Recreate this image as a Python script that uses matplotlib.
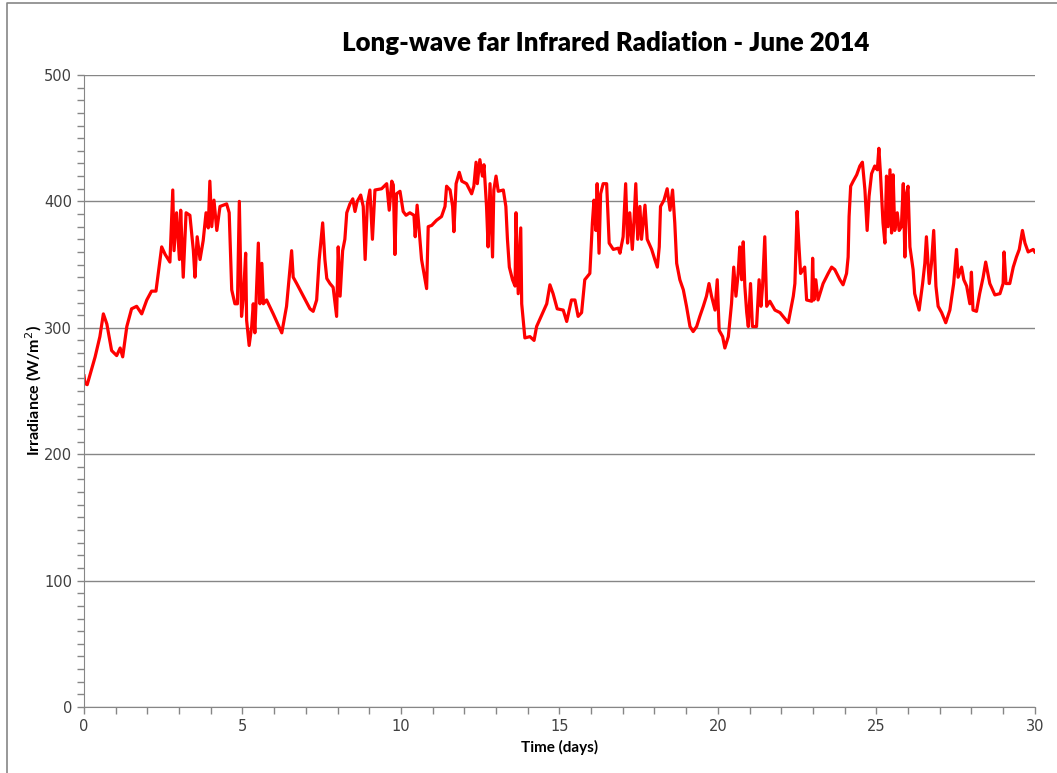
import matplotlib.pyplot as plt
from matplotlib.ticker import MultipleLocator
from matplotlib.lines import Line2D

# values (time in days, irradiance in W/m2)
days = [0.0, 0.03, 0.1, 0.35, 0.5, 0.61, 0.72, 0.87, 1.03, 1.14, 1.22, 1.35, 1.5, 1.66,
        1.82, 1.98, 2.13, 2.27, 2.4, 2.45, 2.56, 2.71, 2.8, 2.84, 2.92, 3.01, 3.05, 3.13,
        3.22, 3.34, 3.45, 3.5, 3.57, 3.66, 3.76, 3.85, 3.92, 3.97, 4.03, 4.1, 4.19, 4.29,
        4.5, 4.58, 4.66, 4.76, 4.84, 4.9, 4.97, 5.03, 5.1, 5.13, 5.21, 5.29, 5.34, 5.39,
        5.5, 5.55, 5.61, 5.66, 5.76, 5.97, 6.24, 6.39, 6.55, 6.6, 6.71, 6.92, 7.13, 7.23,
        7.34, 7.42, 7.53, 7.6, 7.66, 7.76, 7.86, 7.97, 8.02, 8.08, 8.16, 8.23, 8.29, 8.39,
        8.48, 8.55, 8.62, 8.73, 8.81, 8.87, 8.94, 9.02, 9.1, 9.18, 9.39, 9.55, 9.63, 9.71,
        9.76, 9.81, 9.86, 9.97, 10.07, 10.16, 10.28, 10.41, 10.45, 10.51, 10.58, 10.65,
        10.76, 10.81, 10.86, 10.97, 11.12, 11.28, 11.39, 11.44, 11.55, 11.63, 11.67, 11.74,
        11.84, 11.92, 12.07, 12.23, 12.3, 12.37, 12.41, 12.49, 12.57, 12.62, 12.7, 12.75,
        12.81, 12.89, 12.93, 13.0, 13.07, 13.23, 13.31, 13.36, 13.42, 13.52, 13.6, 13.63,
        13.7, 13.78, 13.81, 13.91, 14.07, 14.2, 14.28, 14.44, 14.6, 14.7, 14.8, 14.93,
        15.12, 15.23, 15.38, 15.49, 15.59, 15.7, 15.8, 15.96, 16.04, 16.09, 16.15, 16.19,
        16.25, 16.3, 16.38, 16.49, 16.57, 16.7, 16.86, 16.91, 17.01, 17.09, 17.15, 17.22,
        17.3, 17.35, 17.41, 17.47, 17.54, 17.59, 17.7, 17.77, 17.91, 18.01, 18.09, 18.15,
        18.19, 18.3, 18.4, 18.49, 18.57, 18.64, 18.7, 18.8, 18.91, 19.01, 19.12, 19.22,
        19.33, 19.43, 19.54, 19.64, 19.72, 19.8, 19.91, 19.98, 20.04, 20.15, 20.22, 20.33,
        20.43, 20.5, 20.57, 20.64, 20.69, 20.75, 20.8, 20.85, 20.91, 20.96, 21.03, 21.09,
        21.22, 21.3, 21.36, 21.41, 21.48, 21.54, 21.64, 21.8, 21.96, 22.22, 22.38, 22.43,
        22.5, 22.56, 22.61, 22.69, 22.74, 22.8, 22.96, 22.99, 23.03, 23.09, 23.16, 23.32,
        23.48, 23.59, 23.69, 23.85, 23.95, 24.06, 24.11, 24.14, 24.19, 24.27, 24.38, 24.48,
        24.56, 24.64, 24.71, 24.77, 24.85, 24.95, 25.03, 25.08, 25.13, 25.21, 25.27, 25.32,
        25.37, 25.43, 25.48, 25.53, 25.58, 25.66, 25.72, 25.79, 25.85, 25.9, 25.95, 26.0,
        26.06, 26.16, 26.21, 26.35, 26.46, 26.53, 26.58, 26.67, 26.74, 26.81, 26.88, 26.95,
        27.06, 27.19, 27.32, 27.44, 27.53, 27.58, 27.69, 27.76, 27.85, 27.95, 28.0, 28.05,
        28.16, 28.26, 28.37, 28.45, 28.58, 28.74, 28.9, 29.0, 29.03, 29.09, 29.21, 29.32,
        29.42, 29.51, 29.61, 29.69, 29.79, 29.95, 30.0]
irradiance = [262, 256, 255, 277, 293, 311, 303, 282, 278, 284, 277, 301, 315, 317,
              311, 322, 329, 329, 354, 364, 358, 352, 409, 361, 391, 354, 393, 340,
              391, 389, 361, 340, 372, 354, 369, 391, 379, 416, 380, 401, 377, 396,
              398, 391, 330, 319, 319, 400, 309, 325, 359, 306, 286, 301, 319, 296,
              367, 319, 351, 319, 322, 311, 296, 317, 361, 340, 335, 325, 315, 313,
              322, 354, 383, 354, 339, 335, 332, 309, 364, 325, 361, 370, 391, 398,
              402, 392, 400, 405, 396, 354, 398, 409, 370, 409, 410, 414, 393, 416,
              413, 358, 406, 408, 392, 389, 391, 389, 372, 397, 375, 354,
              338, 331, 380, 381, 385, 388, 396, 412, 409, 396, 376, 414,
              423, 416, 414, 406, 412, 431, 414, 433, 420, 429, 396, 364,
              414, 356, 409, 420, 408, 409, 396, 370, 348, 338, 333, 391,
              327, 379, 319, 292, 293, 290, 301, 310, 319, 334, 327, 315,
              314, 305, 322, 322, 309, 312, 338, 343, 383, 401, 377, 414,
              359, 406, 414, 414, 367, 362, 363, 359, 372, 414, 367, 391,
              362, 383, 414, 370, 396, 370, 397, 370, 362, 354, 348, 364,
              396, 401, 410, 393, 409, 383, 351, 338, 330, 317, 301, 297,
              301, 309, 317, 325, 335, 325, 314, 338, 298, 293, 284, 293,
              319, 348, 325, 343, 364, 338, 368, 333, 312, 301, 335, 301,
              301, 338, 317, 333, 372, 317, 321, 314, 312, 304, 325, 335,
              392, 364, 343, 346, 348, 322, 321, 355, 322, 338, 322, 335,
              343, 348, 346, 338, 334, 343, 356, 388, 412, 416, 421, 428,
              431, 409, 377, 404, 422, 428, 425, 442, 422, 383, 367, 420,
              380, 425, 375, 421, 377, 391, 377, 380, 414, 356, 406, 412,
              364, 346, 327, 314, 335, 351, 372, 335, 351, 377, 333, 317,
              312, 304, 314, 335, 362, 340, 348, 338, 333, 319, 344, 314,
              313, 327, 340, 352, 335, 326, 327, 335, 360, 335, 335, 348,
              356, 362, 377, 367, 360, 362, 360]

fig = plt.figure(figsize=(10.57, 7.73), dpi=100)
ax = fig.add_axes([0.0795, 0.0854, 0.8995, 0.8176])

ax.plot(days, irradiance, color='#ff0000', linewidth=2.3)

ax.set_xlim(0, 30)
ax.set_ylim(0, 500)
ax.xaxis.set_major_locator(MultipleLocator(5))
ax.xaxis.set_minor_locator(MultipleLocator(1))
ax.yaxis.set_major_locator(MultipleLocator(100))
ax.yaxis.set_minor_locator(MultipleLocator(10))
ax.tick_params(which='both', direction='out', length=5, width=1, color='#868686',
               labelsize=10.5, labelcolor='#404040')
ax.tick_params(axis='x', pad=4)
ax.grid(True, axis='y', which='major', color='#868686', linewidth=1)
ax.set_axisbelow(True)
for s in ['top', 'right']:
    ax.spines[s].set_visible(False)
for s in ['left', 'bottom']:
    ax.spines[s].set_color('#868686')

ax.set_xlabel('Time (days)', fontsize=11, fontweight='bold', family='Lato')
ax.set_ylabel('Irradiance (W/m$^2$)', fontsize=11.5, fontweight='bold', family='Lato',
              labelpad=0)
fig.text(0.573, 0.944, 'Long-wave far Infrared Radiation - June 2014',
         ha='center', va='center', fontsize=18.5, fontweight='heavy', family='Lato')

# chart border, only the left and top edges show in the reference
fig.add_artist(Line2D([0.0066, 0.0066, 1.0], [0.0, 0.996, 0.996], transform=fig.transFigure,
                      color='#868686', linewidth=1.2))

fig.savefig('out.png', dpi=100)
